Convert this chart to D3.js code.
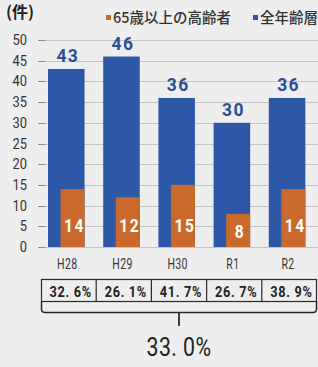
<!DOCTYPE html>
<html><head><meta charset="utf-8">
<script src="https://cdn.jsdelivr.net/npm/d3@7"></script>
<style>
html,body{margin:0;padding:0;background:#eeeeee;overflow:hidden}
svg{display:block}
.num{font-family:Roboto,"Liberation Sans",sans-serif}
.jp{font-family:"Noto Sans CJK JP","Noto Sans",sans-serif}
</style></head>
<body>
<svg id="c" width="318" height="367"></svg>
<script>
const categories = ["H28","H29","H30","R1","R2"];
const totals = [43,46,36,30,36];
const elderly = [14,12,15,8,14];
const shares = ["32. 6%","26. 1%","41. 7%","26. 7%","38. 9%"];
const overall = "33. 0%";
const yTicks = [0,5,10,15,20,25,30,35,40,45,50];
const legendLabels = ["65歳以上の高齢者","全年齢層"];
const unitLabel = "(件)";

const colBlue = "#2d57a7", colOrange = "#c96a2c", colBlueText = "#2b4f95";
const svg = d3.select("#c");

const y = d3.scaleLinear().domain([0,50]).range([247,40]);
const x = d3.scaleBand().domain(categories).range([41,317]).padding(0);
const bw = x.bandwidth();
const blueOff = 0.127*bw, blueW = 0.662*bw, orW = 0.435*bw;

// place condensed text
function place(sel, fx, fy, sx){
  sel.attr("transform",(d,i)=>`translate(${fx(d,i)},${fy(d,i)}) scale(${sx},1)`);
}

// gridlines
svg.append("g").selectAll("line").data(yTicks).join("line")
  .attr("x1",38).attr("x2",318).attr("y1",d=>Math.round(y(d))+0.5).attr("y2",d=>Math.round(y(d))+0.5)
  .attr("stroke","#c4c4c4").attr("stroke-width",1);
svg.append("g").selectAll("line").data(yTicks).join("line")
  .attr("x1",38).attr("x2",45).attr("y1",d=>Math.round(y(d))+0.5).attr("y2",d=>Math.round(y(d))+0.5)
  .attr("stroke","#8a8a8a").attr("stroke-width",1);
// y labels
place(svg.append("g").selectAll("text").data(yTicks).join("text").attr("class","num")
  .attr("text-anchor","end").attr("font-size",14).attr("fill","#333").text(d=>d),
  d=>27, d=>y(d)+5, 0.92);

// bars
const data = categories.map((c,i)=>({c,t:totals[i],e:elderly[i],s:shares[i]}));
const g = svg.append("g");
g.selectAll("rect.b").data(data).join("rect").attr("class","b")
  .attr("x",d=>x(d.c)+blueOff).attr("width",blueW)
  .attr("y",d=>y(d.t)).attr("height",d=>y(0)-y(d.t)).attr("fill",colBlue);
g.selectAll("rect.o").data(data).join("rect").attr("class","o")
  .attr("x",d=>x(d.c)+blueOff+blueW-orW).attr("width",orW)
  .attr("y",d=>y(d.e)).attr("height",d=>y(0)-y(d.e)).attr("fill",colOrange);
// total labels
place(g.selectAll("text.t").data(data).join("text").attr("class","num t")
  .attr("text-anchor","middle").attr("font-size",19).attr("font-weight","bold")
  .attr("letter-spacing",1.5).attr("fill",colBlueText).text(d=>d.t),
  d=>x(d.c)+blueOff+blueW/2+1.5, d=>y(d.t)-7, 0.92);
// elderly labels
place(g.selectAll("text.e").data(data).join("text").attr("class","num e")
  .attr("text-anchor","middle").attr("font-size",19).attr("font-weight","bold")
  .attr("letter-spacing",2).attr("fill","#ffffff").text(d=>d.e),
  d=>x(d.c)+blueOff+blueW-orW/2+2, d=>Math.max(225,y(d.e)+17)+7, 0.82);

// x labels
place(svg.append("g").selectAll("text").data(categories).join("text").attr("class","num")
  .attr("text-anchor","middle").attr("font-size",14).attr("letter-spacing",0.5).attr("fill","#333").text(d=>d),
  d=>x(d)+blueOff+blueW/2+1, d=>269, 0.75);

// share table
const tb = svg.append("g");
tb.append("rect").attr("x",41.5).attr("y",279.5).attr("width",275).attr("height",22)
  .attr("fill","none").attr("stroke","#2a2a2a").attr("stroke-width",1.2);
tb.selectAll("line").data(categories.slice(1)).join("line")
  .attr("x1",d=>x(d)).attr("x2",d=>x(d)).attr("y1",279.5).attr("y2",301.5)
  .attr("stroke","#2a2a2a").attr("stroke-width",1.2);
place(tb.selectAll("text").data(data).join("text").attr("class","num")
  .attr("text-anchor","middle").attr("font-size",15).attr("font-weight","bold").attr("letter-spacing",0.8)
  .attr("fill","#222").text(d=>d.s),
  d=>x(d.c)+bw/2+2, d=>296.5, 0.85);
// bracket
const cx = (x.range()[0]+x.range()[1])/2;
tb.append("path")
  .attr("d",`M41.5,302 L41.5,309 Q41.5,312.5 45,312.5 L313,312.5 Q316.5,312.5 316.5,309 L316.5,302`)
  .attr("fill","none").attr("stroke","#2a2a2a").attr("stroke-width",1.5);
tb.append("line").attr("x1",cx).attr("x2",cx).attr("y1",312.5).attr("y2",326)
  .attr("stroke","#2a2a2a").attr("stroke-width",1.8);
place(tb.append("text").datum(overall).attr("class","num").attr("text-anchor","middle")
  .attr("font-size",25).attr("letter-spacing",0.5).attr("fill","#222").text(d=>d),
  d=>cx, d=>356, 0.85);

// title & legend
svg.append("text").attr("class","jp").attr("x",6).attr("y",18).attr("font-size",16)
  .attr("font-weight","bold").attr("fill","#222").text(unitLabel);
const leg = svg.append("g");
const legX = [106,253], legC = [colOrange,colBlue];
leg.selectAll("rect").data(legendLabels).join("rect")
  .attr("x",(d,i)=>legX[i]).attr("y",15).attr("width",5).attr("height",5).attr("fill",(d,i)=>legC[i]);
leg.selectAll("text").data(legendLabels).join("text").attr("class","jp")
  .attr("x",(d,i)=>legX[i]+7).attr("y",22.5).attr("font-size",14.5).attr("font-weight",500)
  .attr("fill","#333").text(d=>d);
</script>
</body></html>
